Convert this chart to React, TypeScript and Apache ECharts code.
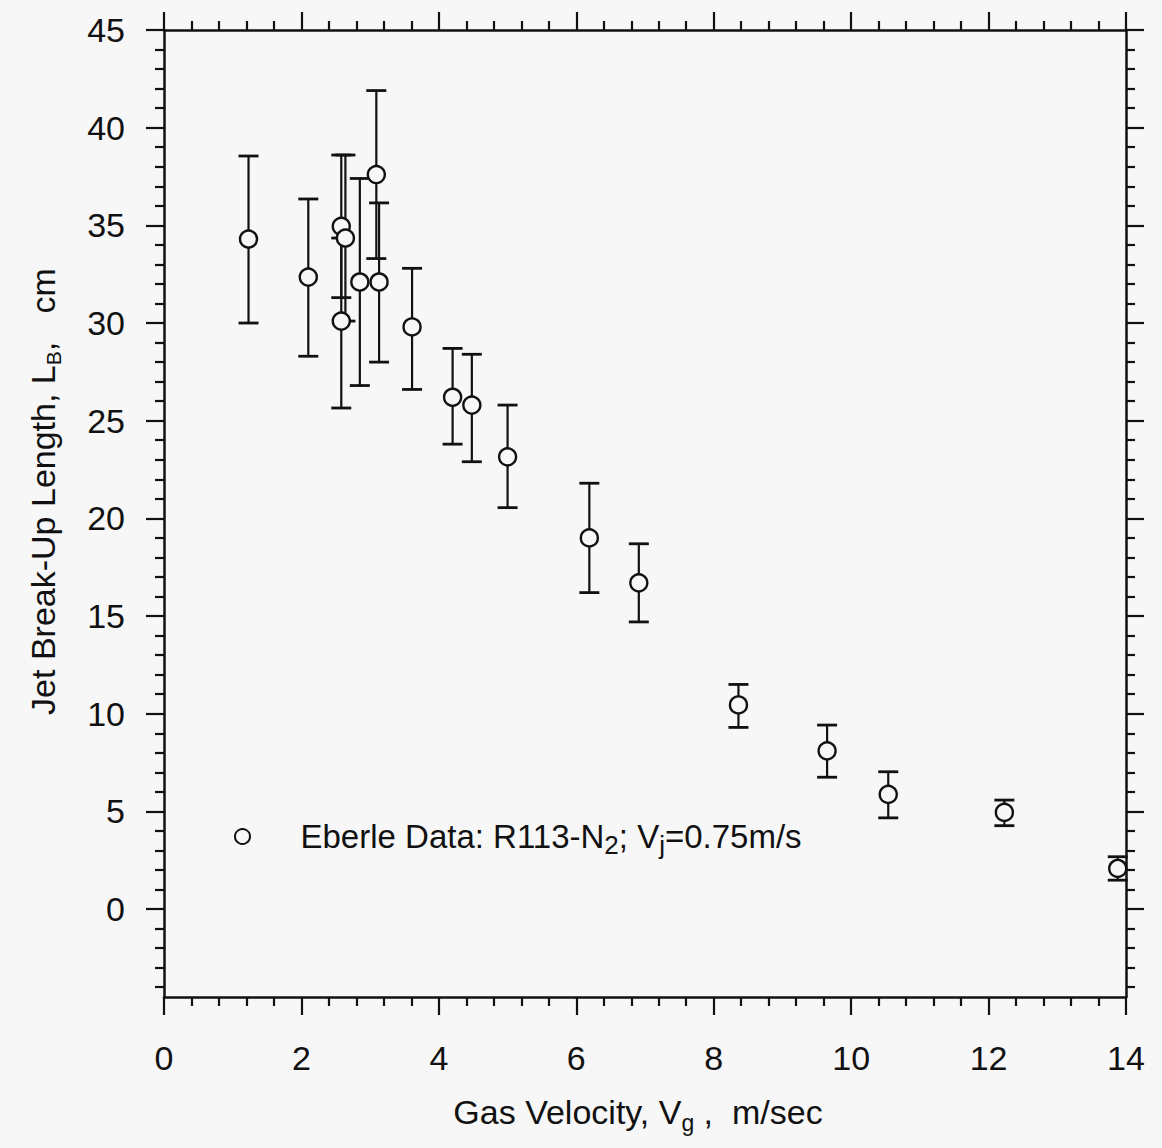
import React, { useEffect, useRef } from "react";
import * as echarts from "echarts";

// ---- data ----
const gasVelocity = [1.23, 2.1, 2.58, 2.64, 2.58, 2.85, 3.09, 3.13, 3.61, 4.2, 4.48, 5.0, 6.19, 6.91, 8.36, 9.65, 10.54, 12.23, 13.88];
const breakUpLength = [34.3, 32.35, 34.95, 34.35, 30.1, 32.1, 37.6, 32.1, 29.8, 26.2, 25.8, 23.15, 19.0, 16.7, 10.45, 8.1, 5.87, 4.95, 2.08];
const errLow = [30.0, 28.3, 31.3, 30.1, 25.65, 26.8, 33.3, 28.0, 26.6, 23.8, 22.9, 20.55, 16.2, 14.7, 9.3, 6.75, 4.67, 4.27, 1.48];
const errHigh = [38.55, 36.35, 38.6, 38.6, 34.35, 37.4, 41.9, 36.15, 32.8, 28.7, 28.4, 25.8, 21.8, 18.7, 11.5, 9.42, 7.03, 5.58, 2.68];

const xTicks = { min: 0, max: 14, interval: 2 };
const yMajorTicks = [0, 5, 10, 15, 20, 25, 30, 35, 40, 45];
const yMinorTicks = [-4, -3, -2, -1, 1, 2, 3, 4, 6, 7, 8, 9, 11, 12, 13, 14, 16, 17, 18, 19, 21, 22, 23, 24, 26, 27, 28, 29, 31, 32, 33, 34, 36, 37, 38, 39, 41, 42, 43, 44];
const yRange = { min: -4.5, max: 45 };

const seriesName = "Eberle Data";

const FONT = "'Liberation Sans', Arial, sans-serif";
const INK = "#111";
const BG = "#f7f7f7";

export default function App() {
  const ref = useRef<HTMLDivElement>(null);

  useEffect(() => {
    document.body.style.margin = "0";
    document.body.style.overflow = "hidden";
    const chart = echarts.init(ref.current!, null, { renderer: "svg" });

    const richBase = (size: number, subSize: number, subPad: number) => ({
      n: { fontSize: size, fontFamily: FONT, color: INK, verticalAlign: "top", lineHeight: size },
      s: { fontSize: subSize, fontFamily: FONT, color: INK, verticalAlign: "top", lineHeight: subSize, padding: [subPad, 0, 0, 0] },
    });

    const gridRect = { left: 164, right: 36, top: 30, bottom: 151 };

    const lineStyle = { color: INK, width: 2.5 };
    const tickStyle = { color: INK, width: 2.2 };

    const xAxisBase = (position: string, showLabel: boolean) => ({
      type: "value",
      gridIndex: 0,
      position,
      min: xTicks.min,
      max: xTicks.max,
      interval: xTicks.interval,
      axisLine: { show: true, onZero: false, lineStyle },
      axisTick: { show: true, length: 18, lineStyle: tickStyle },
      minorTick: { show: true, splitNumber: 5, length: 9, lineStyle: tickStyle },
      splitLine: { show: false },
      axisLabel: { show: showLabel, fontSize: 34, fontFamily: FONT, color: INK, margin: 44 },
    });

    const yMajorAxis = (position: string, showLabel: boolean) => ({
      type: "value",
      gridIndex: 0,
      position,
      min: yRange.min,
      max: yRange.max,
      axisLine: { show: true, onZero: false, lineStyle },
      axisTick: { show: true, length: 18, lineStyle: tickStyle, customValues: yMajorTicks },
      splitLine: { show: false },
      axisLabel: { show: showLabel, customValues: yMajorTicks, fontSize: 34, fontFamily: FONT, color: INK, margin: 39 },
    });

    const yMinorAxis = (position: string) => ({
      type: "value",
      gridIndex: 1,
      position,
      min: yRange.min,
      max: yRange.max,
      axisLine: { show: false, onZero: false },
      axisTick: { show: true, length: 9, lineStyle: tickStyle, customValues: yMinorTicks },
      splitLine: { show: false },
      axisLabel: { show: false },
    });

    const option: any = {
      animation: false,
      backgroundColor: BG,
      grid: [
        { ...gridRect },
        { ...gridRect },
      ],
      xAxis: [
        {
          ...xAxisBase("bottom", true),
          name: "{n|Gas Velocity, V}{s|g}{n| ,  m/sec}",
          nameLocation: "middle",
          nameGap: 98,
          nameTextStyle: { fontSize: 34, fontFamily: FONT, color: INK, padding: [0, 14, 0, 0], rich: richBase(34, 23, 16) },
        },
        xAxisBase("top", false),
        { type: "value", gridIndex: 1, min: xTicks.min, max: xTicks.max, show: false },
      ],
      yAxis: [
        {
          ...yMajorAxis("left", true),
          name: "{n|Jet Break-Up Length, L}{s|B}{n|,   cm}",
          nameLocation: "middle",
          nameGap: 104,
          nameRotate: 90,
          nameTextStyle: { fontSize: 34, fontFamily: FONT, color: INK, padding: [0, 0, 0, 44], rich: richBase(34, 21, 17) },
        },
        yMajorAxis("right", false),
        yMinorAxis("left"),
        yMinorAxis("right"),
      ],
      legend: {
        show: true,
        data: [seriesName],
        left: 234,
        top: 820,
        padding: 0,
        itemWidth: 106,
        itemHeight: 15,
        formatter: () => "{n|Eberle Data: R113-N}{s|2}{n|; V}{s|j}{n|=0.75m/s}",
        textStyle: { fontSize: 33, fontFamily: FONT, color: INK, rich: richBase(33, 26, 12) },
      },
      series: [
        {
          type: "custom",
          name: "errorbars",
          xAxisIndex: 0,
          yAxisIndex: 0,
          z: 2,
          data: gasVelocity.map((v, i) => [v, errLow[i], errHigh[i]]),
          encode: { x: 0, y: [1, 2] },
          renderItem: (params: any, api: any) => {
            const x = api.value(0);
            const lo = api.coord([x, api.value(1)]);
            const hi = api.coord([x, api.value(2)]);
            const w = 10;
            const st = { stroke: INK, lineWidth: 2.2, fill: null };
            const capSt = { stroke: INK, lineWidth: 2.8, fill: null };
            return {
              type: "group",
              children: [
                { type: "line", shape: { x1: lo[0], y1: lo[1], x2: hi[0], y2: hi[1] }, style: st },
                { type: "line", shape: { x1: hi[0] - w, y1: hi[1], x2: hi[0] + w, y2: hi[1] }, style: capSt },
                { type: "line", shape: { x1: lo[0] - w, y1: lo[1], x2: lo[0] + w, y2: lo[1] }, style: capSt },
              ],
            };
          },
        },
        {
          type: "scatter",
          name: seriesName,
          xAxisIndex: 0,
          yAxisIndex: 0,
          z: 3,
          symbol: "circle",
          symbolSize: 17,
          itemStyle: { color: BG, borderColor: INK, borderWidth: 2.4, opacity: 1 },
          data: gasVelocity.map((v, i) => [v, breakUpLength[i]]),
        },
      ],
    };

    chart.setOption(option);
    return () => chart.dispose();
  }, []);

  return <div ref={ref} style={{ width: 1162, height: 1148, background: BG }} />;
}
